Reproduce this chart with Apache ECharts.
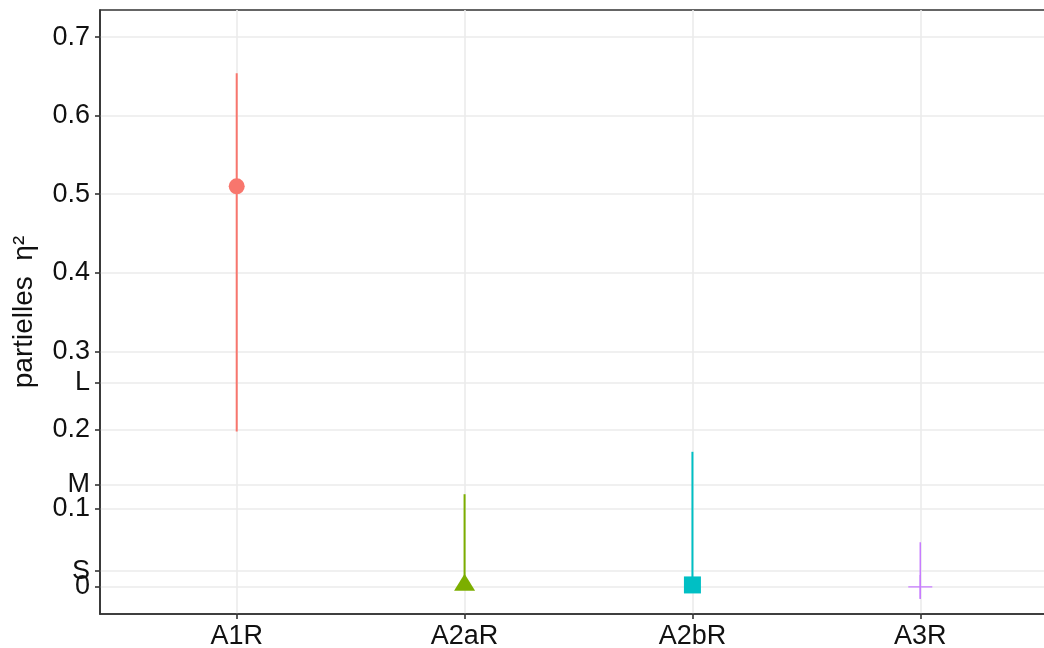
<!DOCTYPE html>
<html>
<head>
<meta charset="utf-8">
<script src="https://cdn.jsdelivr.net/npm/echarts@6/dist/echarts.min.js"></script>
<style>
  html, body { margin: 0; padding: 0; background: #fff; }
  #chart { width: 1044px; height: 648px; }
</style>
</head>
<body>
<div id="chart"></div>
<script>
// Partial eta-squared estimates with confidence intervals per effect
const categories = ['A1R', 'A2aR', 'A2bR', 'A3R'];
const estimates = [0.510, 0.006, 0.0025, 0.0];
const ciLow = [0.198, 0.0, 0.0, -0.015];
const ciHigh = [0.654, 0.118, 0.172, 0.057];

// Regular y ticks
const yTickValues = [0, 0.1, 0.2, 0.3, 0.4, 0.5, 0.6, 0.7];
const yTickLabels = ['0', '0.1', '0.2', '0.3', '0.4', '0.5', '0.6', '0.7'];
// Effect-size benchmarks shown on the same axis
const benchValues = [0.02, 0.13, 0.26];
const benchLabels = ['S', 'M', 'L'];

const colors = ['#F8766D', '#7CAE00', '#00BFC4', '#C77CFF'];
const symbols = [
  'circle',
  'triangle',
  'rect',
  'path://M0,11.3H24V12.7H0Z M11.3,0H12.7V24H11.3Z'
];
const symbolSizes = [16, [21, 17], 17, 24];

const FONT = 'Liberation Sans, Arial, Helvetica, sans-serif';
const xPositions = categories.map((_, i) => i + 1);
const Y_MIN = -0.0345, Y_MAX = 0.7345;

const series = [];
categories.forEach((cat, i) => {
  series.push({
    name: cat + ' CI',
    type: 'line',
    yAxisIndex: 0,
    data: [[xPositions[i], ciLow[i]], [xPositions[i], ciHigh[i]]],
    showSymbol: false,
    silent: true,
    lineStyle: { color: colors[i], width: i === 3 ? 1.5 : 2 },
    z: 3
  });
  series.push({
    name: cat,
    type: 'scatter',
    yAxisIndex: 0,
    data: [[xPositions[i], estimates[i]]],
    symbol: symbols[i],
    symbolSize: symbolSizes[i],
    itemStyle: { color: colors[i], opacity: 1 },
    z: 4
  });
});

function labelFor(values, labels) {
  return v => {
    const k = values.findIndex(t => Math.abs(t - v) < 1e-9);
    return k >= 0 ? labels[k] : '';
  };
}

const tickStyle = { color: '#333333', width: 1.6 };
const gridLine = { show: true, lineStyle: { color: '#ebebeb', width: 1.6 } };
const labelStyle = { fontFamily: FONT, fontSize: 27, color: '#111111' };

const chart = echarts.init(document.getElementById('chart'), null, { renderer: 'canvas' });
chart.setOption({
  animation: false,
  backgroundColor: '#ffffff',
  grid: {
    left: 100, top: 10, right: -13, bottom: 34,
    containLabel: false,
    outerBoundsMode: 'none',
    show: true,
    borderColor: '#333333',
    borderWidth: 1.6,
    backgroundColor: 'transparent'
  },
  xAxis: {
    type: 'value',
    min: 0.4, max: 4.6,
    axisLine: { show: true, onZero: false, lineStyle: tickStyle },
    axisTick: { show: true, customValues: xPositions, length: 5, lineStyle: tickStyle },
    axisLabel: Object.assign({
      customValues: xPositions,
      showMinLabel: true, showMaxLabel: true,
      formatter: v => categories[Math.round(v) - 1] || '',
      margin: 9
    }, labelStyle),
    splitLine: gridLine
  },
  yAxis: [
    {
      type: 'value',
      position: 'left',
      min: Y_MIN, max: Y_MAX,
      name: 'partielles  η²',
      nameLocation: 'middle',
      nameGap: 62,
      nameTextStyle: { fontFamily: FONT, fontSize: 28, color: '#111111' },
      axisLine: { show: true, onZero: false, lineStyle: tickStyle },
      axisTick: { show: true, customValues: yTickValues, length: 5, lineStyle: tickStyle },
      axisLabel: Object.assign({
        customValues: yTickValues,
        showMinLabel: true, showMaxLabel: true,
        formatter: labelFor(yTickValues, yTickLabels),
        margin: 10
      }, labelStyle),
      splitLine: gridLine
    },
    {
      type: 'value',
      position: 'left',
      offset: 0,
      min: Y_MIN, max: Y_MAX,
      axisLine: { show: false, onZero: false },
      axisTick: { show: true, customValues: benchValues, length: 5, lineStyle: tickStyle },
      axisLabel: Object.assign({
        customValues: benchValues,
        showMinLabel: true, showMaxLabel: true,
        formatter: labelFor(benchValues, benchLabels),
        margin: 10
      }, labelStyle),
      splitLine: gridLine
    }
  ],
  series: series
});
</script>
</body>
</html>
